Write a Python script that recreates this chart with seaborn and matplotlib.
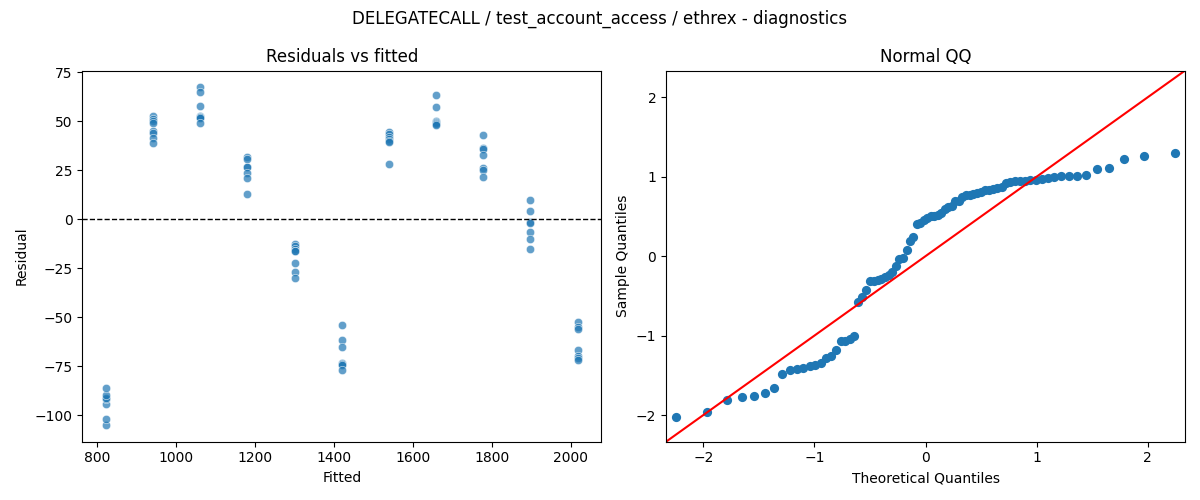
import matplotlib
matplotlib.use('Agg')
import matplotlib.pyplot as plt
import seaborn as sns
import numpy as np
import pandas as pd
from statistics import NormalDist

title = "DELEGATECALL / test_account_access / ethrex - diagnostics"

# fitted value of each group (x positions of the residual columns)
fitted_levels = [822, 941.5, 1061, 1180.5, 1300, 1419.5, 1539, 1658.5, 1778, 1897.5, 2017]

# residuals read per group
res_g1 = [-105.0, -102.2, -94.3, -92.0, -91.4, -89.5, -86.2]
res_g2 = [52.7, 51.0, 50.0, 49.4, 45.0, 43.8, 41.6, 38.7]
res_g3 = [67.3, 65.2, 57.8, 52.8, 52.4, 52.2, 51.6, 48.9]
res_g4 = [31.9, 30.6, 26.8, 26.5, 23.4, 20.9, 12.7]
res_g5 = [-12.6, -13.9, -15.1, -16.0, -16.3, -22.4, -27.0, -30.1]
res_g6 = [-54.0, -61.5, -65.2, -73.4, -73.7, -74.2, -76.9]
res_g7 = [44.7, 43.3, 42.1, 40.9, 40.1, 39.7, 28.0]
res_g8 = [63.7, 57.2, 50.3, 49.6, 49.2, 48.4, 48.0]
res_g9 = [43.0, 36.4, 36.0, 32.6, 26.0, 25.1, 21.4]
res_g10 = [9.9, 4.1, -1.2, -2.0, -6.6, -10.2, -15.3]
res_g11 = [-52.3, -55.2, -55.8, -66.6, -69.6, -71.0, -72.0]

groups = [res_g1, res_g2, res_g3, res_g4, res_g5, res_g6,
          res_g7, res_g8, res_g9, res_g10, res_g11]

rows = []
for fv, res in zip(fitted_levels, groups):
    for r in res:
        rows.append({"Fitted": fv, "Residual": r})
df = pd.DataFrame(rows)

# normal QQ of standardized residuals (residuals of an OLS fit, mean ~ 0)
resid = df["Residual"].to_numpy()
z = np.sort(resid / resid.std(ddof=1))
n = len(z)
theo = np.array([NormalDist().inv_cdf(i / (n + 1)) for i in range(1, n + 1)])
qq = pd.DataFrame({"theo": theo, "sample": z})

fig, axs = plt.subplots(ncols=2, figsize=(12, 5), dpi=100)

sns.scatterplot(data=df, x="Fitted", y="Residual", alpha=0.7, ax=axs[0])
axs[0].axhline(0, color="black", linestyle="--", linewidth=1)
axs[0].set_title("Residuals vs fitted")

sns.scatterplot(data=qq, x="theo", y="sample", s=44, color="#1f77b4",
                edgecolor="#1f77b4", linewidth=0, ax=axs[1])
axs[1].margins(0.02)
lo = min(axs[1].get_xlim()[0], axs[1].get_ylim()[0])
hi = max(axs[1].get_xlim()[1], axs[1].get_ylim()[1])
axs[1].plot([lo, hi], [lo, hi], color="red", linewidth=1.5)
axs[1].set_xlim(lo, hi)
axs[1].set_ylim(lo, hi)
axs[1].set_xlabel("Theoretical Quantiles")
axs[1].set_ylabel("Sample Quantiles")
axs[1].set_title("Normal QQ")

fig.suptitle(title)
plt.tight_layout()
plt.savefig("out.png")
